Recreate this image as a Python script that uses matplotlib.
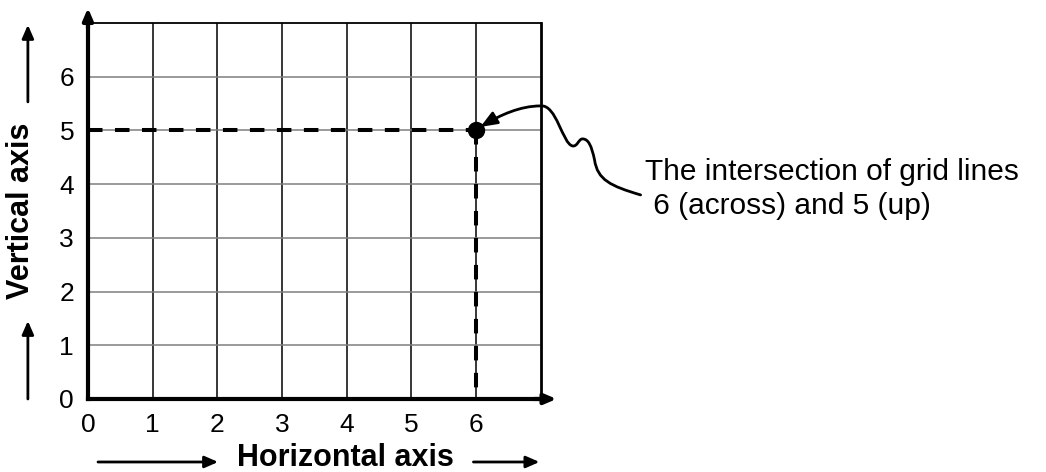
import matplotlib
matplotlib.use("Agg")
import matplotlib.pyplot as plt
from matplotlib.path import Path
from matplotlib.patches import FancyArrowPatch

plt.rcParams['font.family'] = ['Liberation Sans', 'DejaVu Sans']

# ---- data ----
x_ticks = [0, 1, 2, 3, 4, 5, 6]
y_ticks = [0, 1, 2, 3, 4, 5, 6]
grid_max = 7
point_x = [6]
point_y = [5]
annotation_lines = ["The intersection of grid lines", " 6 (across) and 5 (up)"]
x_label = "Horizontal axis"
y_label = "Vertical axis"
# callout curve (data units), cubic Bezier control points
callout_path = [(8.545, 3.799), (8.080, 3.966), (7.879, 4.078), (7.833, 4.451),
                (7.786, 4.711), (7.740, 4.842), (7.647, 4.842),
                (7.585, 4.842), (7.570, 4.693), (7.492, 4.711),
                (7.337, 4.749), (7.245, 5.493), (6.997, 5.456),
                (6.687, 5.456), (6.378, 5.289), (6.068, 5.065)]

fig = plt.figure(figsize=(10.46, 4.72), dpi=100)
ax = fig.add_axes([0.0841, 0.1547, 0.4328, 0.7966])
ax.set_xlim(0, grid_max)
ax.set_ylim(0, grid_max)

# grid lines
for gx in range(1, grid_max):
    ax.axvline(gx, color='black', lw=1.1, zorder=1)
for gy in range(1, grid_max):
    ax.axhline(gy, color='#7f7f7f', lw=1.1, zorder=1)

# spines
for s in ['left', 'bottom']:
    ax.spines[s].set_linewidth(3)
ax.spines['top'].set_linewidth(1.3)
ax.spines['right'].set_linewidth(2)
ax.spines['right'].set_zorder(2)

ax.set_xticks(x_ticks)
ax.set_yticks(y_ticks)
ax.tick_params(length=0, labelsize=19)
ax.tick_params(axis='x', pad=10)
ax.tick_params(axis='y', pad=10)

# axis arrows
akw = dict(arrowstyle='-|>,head_length=0.7,head_width=0.3', color='black', lw=3,
           shrinkA=0, shrinkB=0)
ax.annotate('', xy=(0, 7.28), xytext=(0, 6.9), arrowprops=akw, annotation_clip=False)
ax.annotate('', xy=(7.245, 0), xytext=(6.9, 0), arrowprops=akw, annotation_clip=False)

# dashed guide lines
dash = (0, (3.6, 3.1))
px, py = point_x[0], point_y[0]
ax.plot([0, px], [py, py], color='black', lw=2.9, linestyle=dash, zorder=3,
        dash_capstyle='butt')
ax.plot([px, px], [py, 0], color='black', lw=2.9, linestyle=dash, zorder=3,
        dash_capstyle='butt')
ax.plot(point_x, point_y, 'o', color='black', markersize=11.5, zorder=4, clip_on=False)

# callout
codes = [Path.MOVETO] + [Path.CURVE4] * (len(callout_path) - 1)
arrow = FancyArrowPatch(path=Path(callout_path, codes),
                        arrowstyle='-|>,head_length=10,head_width=4',
                        color='black', lw=2, transform=ax.transData,
                        clip_on=False, zorder=5)
ax.add_patch(arrow)
ax.text(8.62, 4.078, annotation_lines[0], fontsize=21.5, ha='left', va='baseline',
        clip_on=False)
ax.text(8.62, 3.445, annotation_lines[1], fontsize=21.5, ha='left', va='baseline',
        clip_on=False)

# axis labels with arrows
ax.text(3.978, -1.248, x_label, fontsize=22, fontweight='bold', ha='center',
        va='baseline', clip_on=False)
ax.text(-1.037, 3.501, y_label, fontsize=22, fontweight='bold', ha='center',
        va='center', rotation=90, clip_on=False)
lkw = dict(arrowstyle='-|>,head_length=0.8,head_width=0.35', color='black', lw=2,
           shrinkA=0, shrinkB=0)
ax.annotate('', xy=(2.012, -1.173), xytext=(0.155, -1.173), arrowprops=lkw, annotation_clip=False)
ax.annotate('', xy=(6.981, -1.173), xytext=(5.960, -1.173), arrowprops=lkw, annotation_clip=False)
ax.annotate('', xy=(-0.929, 6.965), xytext=(-0.929, 5.531), arrowprops=lkw, annotation_clip=False)
ax.annotate('', xy=(-0.929, 1.453), xytext=(-0.929, 0.0), arrowprops=lkw, annotation_clip=False)

fig.savefig('out.png', dpi=100)
